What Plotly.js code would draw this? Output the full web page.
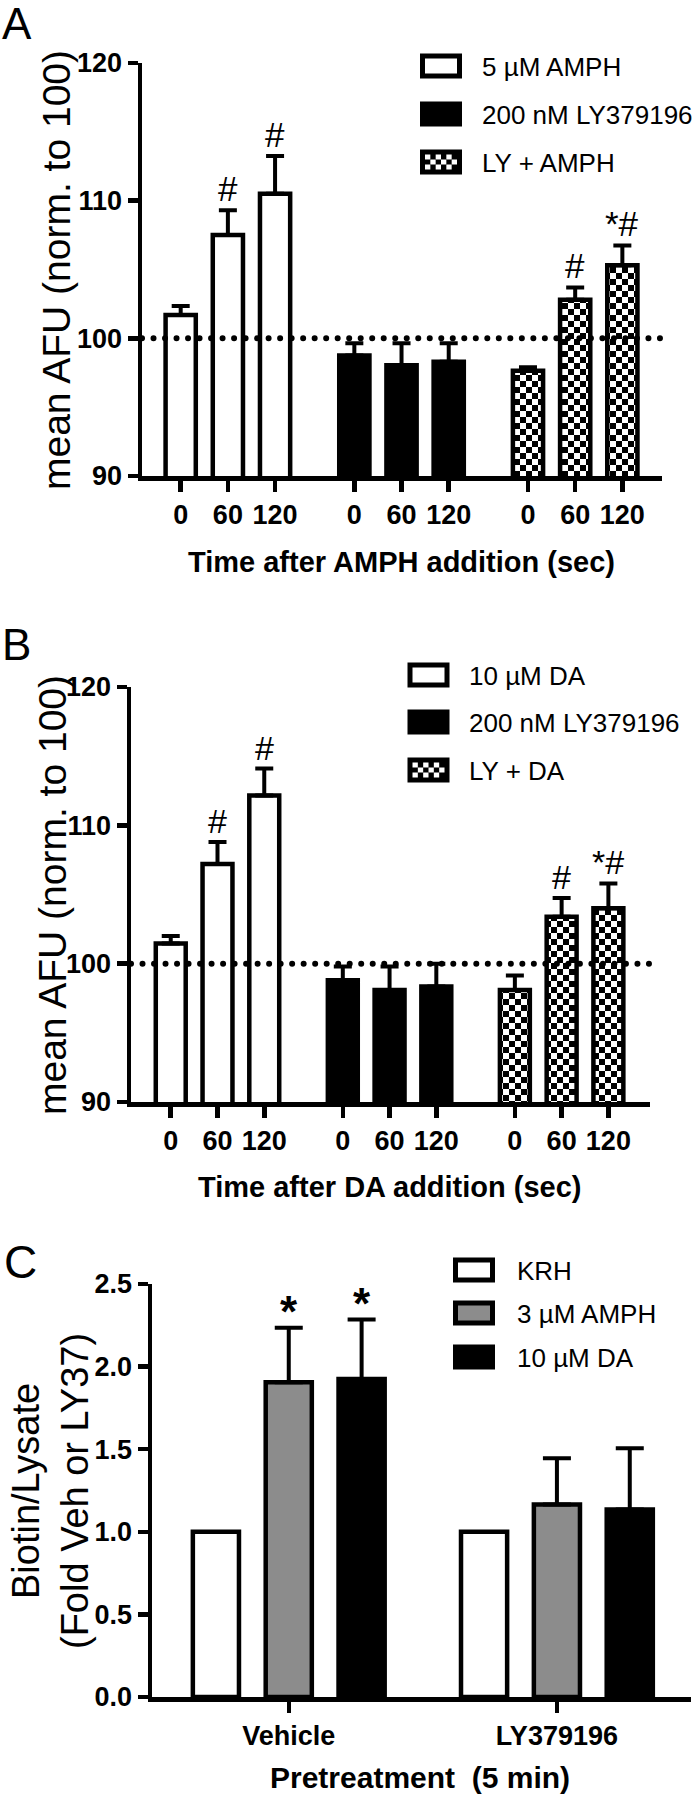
<!DOCTYPE html>
<html>
<head>
<meta charset="utf-8">
<script src="https://cdn.plot.ly/plotly-3.0.1.min.js"></script>
<style>
  html, body { margin: 0; padding: 0; background: #ffffff; }
  #chart { width: 693px; height: 1800px; }
</style>
</head>
<body>
<div id="chart"></div>
<script>
// ---------------- DATA ----------------
const timeLabels = ['0', '60', '120'];

// Panel A
const seriesA = ['5 µM AMPH', '200 nM LY379196', 'LY + AMPH'];
const ampA = [101.7, 107.5, 110.5];
const ampAErr = [0.65, 1.8, 2.75];
const ampASig = ['', '#', '#'];
const lyA = [98.75, 98.05, 98.3];
const lyAErr = [0.9, 1.6, 1.35];
const lyASig = ['', '', ''];
const lyAmpA = [97.65, 102.8, 105.3];
const lyAmpAErr = [0.25, 0.9, 1.45];
const lyAmpASig = ['', '#', '*#'];
const titleAX = 'Time after AMPH addition (sec)';

// Panel B
const seriesB = ['10 µM DA', '200 nM LY379196', 'LY + DA'];
const daB = [101.45, 107.2, 112.15];
const daBErr = [0.55, 1.6, 1.95];
const daBSig = ['', '#', '#'];
const lyB = [98.8, 98.1, 98.35];
const lyBErr = [1.0, 1.7, 1.65];
const lyBSig = ['', '', ''];
const lyDaB = [98.1, 103.4, 104.0];
const lyDaBErr = [1.05, 1.35, 1.8];
const lyDaBSig = ['', '#', '*#'];
const titleBX = 'Time after DA addition (sec)';

const titleABY = 'mean AFU (norm. to 100)';
const ticksAB = [90, 100, 110, 120];
const refLine = 100;

// Panel C
const pretreat = ['Vehicle', 'LY379196'];
const seriesC = ['KRH', '3 µM AMPH', '10 µM DA'];
const krhC = [1.0, 1.0];
const ampC = [1.905, 1.165];
const ampCErr = [0.33, 0.28];
const ampCSig = ['*', ''];
const daC = [1.925, 1.135];
const daCErr = [0.36, 0.37];
const daCSig = ['*', ''];
const titleCX = 'Pretreatment \u00a0(5 min)';
const titleCY = 'Biotin/Lysate<br>(Fold Veh or LY37)';
const ticksC = [0, 0.5, 1.0, 1.5, 2.0, 2.5];

// ---------------- LAYOUT HELPERS ----------------
const W = 693, H = 1800;
const PX = v => v / W;
const PY = v => 1 - v / H;
const FONT = 'Liberation Sans, Arial, Helvetica, sans-serif';
const GROUP_STEP = 3.68;
const BAR_W = 0.64;
const LW = 4.5;
const GRAY = '#8c8c8c';

const fills = {
  white: { color: 'white' },
  black: { color: 'black' },
  gray: { color: GRAY },
  checker: { color: 'black', pattern: { shape: '.', size: 12, solidity: 0.5, fgcolor: 'black', bgcolor: 'white', fillmode: 'replace' } }
};

function positions(g) { return timeLabels.map((_, i) => g * GROUP_STEP + i); }

const data = [];
const annotations = [];
const shapes = [];

function addBar(xs, ys, errs, fill, xa, ya, name, width) {
  const t = {
    type: 'bar', x: xs, y: ys, name: name, xaxis: xa, yaxis: ya, showlegend: false,
    marker: Object.assign({}, fills[fill], { line: { color: 'black', width: LW } })
  };
  if (width !== undefined) t.width = width;
  if (errs) {
    t.error_y = { type: 'data', symmetric: false, array: errs, arrayminus: errs.map(() => 0),
                  color: 'black', thickness: 4, width: xa === 'x3' ? 14 : 9 };
  }
  data.push(t);
}

function addSig(xs, ys, errs, sigs, xa, ya, size, bold, yshift) {
  sigs.forEach((s, i) => {
    if (!s) return;
    annotations.push({
      xref: xa, yref: ya, x: xs[i], y: ys[i] + (errs ? errs[i] : 0), text: s,
      showarrow: false, yanchor: 'bottom', xanchor: 'center', yshift: yshift,
      font: { family: FONT, size: size, color: 'black', weight: bold ? 'bold' : 'normal' }
    });
  });
}

function addLegend(names, kinds, cx, rows, textX) {
  names.forEach((n, i) => {
    const cy = rows[i];
    shapes.push({
      type: 'rect', xref: 'paper', yref: 'paper', layer: 'above',
      x0: PX(cx - 18.5), x1: PX(cx + 18.5), y0: PY(cy + 10), y1: PY(cy - 10),
      line: { color: 'black', width: 5 },
      fillcolor: kinds[i] === 'white' ? 'white' : (kinds[i] === 'gray' ? GRAY : 'black')
    });
    if (kinds[i] === 'checker') {
      const cw = 32 / 6, ch = 15 / 3;
      for (let r = 0; r < 3; r++) {
        for (let c = 0; c < 6; c++) {
          if ((r + c) % 2 === 0) {
            const x0 = cx - 16 + c * cw, y0 = cy - 7.5 + r * ch;
            shapes.push({ type: 'rect', xref: 'paper', yref: 'paper', layer: 'above',
              x0: PX(x0), x1: PX(x0 + cw), y0: PY(y0 + ch), y1: PY(y0),
              line: { width: 0 }, fillcolor: 'white' });
          }
        }
      }
    }
    annotations.push({
      xref: 'paper', yref: 'paper', x: PX(textX), y: PY(cy + 1), text: n,
      showarrow: false, xanchor: 'left', yanchor: 'middle',
      font: { family: FONT, size: 26, color: 'black' }
    });
  });
}

function addText(text, x, y, size, bold, angle) {
  annotations.push({
    xref: 'paper', yref: 'paper', x: PX(x), y: PY(y), text: text, showarrow: false,
    xanchor: 'center', yanchor: 'middle', textangle: angle || 0,
    font: { family: FONT, size: size, color: 'black', weight: bold ? 'bold' : 'normal' }
  });
}

// ---------------- PANEL A ----------------
const pA = [positions(0), positions(1), positions(2)];
addBar(pA[0], ampA, ampAErr, 'white', 'x', 'y', seriesA[0], BAR_W);
addBar(pA[1], lyA, lyAErr, 'black', 'x', 'y', seriesA[1], BAR_W);
addBar(pA[2], lyAmpA, lyAmpAErr, 'checker', 'x', 'y', seriesA[2], BAR_W);
addSig(pA[0], ampA, ampAErr, ampASig, 'x', 'y', 35, false, 0);
addSig(pA[1], lyA, lyAErr, lyASig, 'x', 'y', 35, false, 0);
addSig(pA[2], lyAmpA, lyAmpAErr, lyAmpASig, 'x', 'y', 35, false, 0);

// ---------------- PANEL B ----------------
const pB = [positions(0), positions(1), positions(2)];
addBar(pB[0], daB, daBErr, 'white', 'x2', 'y2', seriesB[0], BAR_W);
addBar(pB[1], lyB, lyBErr, 'black', 'x2', 'y2', seriesB[1], BAR_W);
addBar(pB[2], lyDaB, lyDaBErr, 'checker', 'x2', 'y2', seriesB[2], BAR_W);
addSig(pB[0], daB, daBErr, daBSig, 'x2', 'y2', 34, false, 0);
addSig(pB[1], lyB, lyBErr, lyBSig, 'x2', 'y2', 34, false, 0);
addSig(pB[2], lyDaB, lyDaBErr, lyDaBSig, 'x2', 'y2', 34, false, 0);

// ---------------- PANEL C ----------------
const BARGAP_C = 0.185, BARGROUPGAP_C = 0.367;
addBar(pretreat, krhC, null, 'white', 'x3', 'y3', seriesC[0]);
addBar(pretreat, ampC, ampCErr, 'gray', 'x3', 'y3', seriesC[1]);
addBar(pretreat, daC, daCErr, 'black', 'x3', 'y3', seriesC[2]);
const slotC = (1 - BARGAP_C) / 3;
const catIdx = pretreat.map((_, i) => i);
addSig(catIdx.map(i => i), ampC, ampCErr, ampCSig, 'x3', 'y3', 44, true, -10);
addSig(catIdx.map(i => i + slotC), daC, daCErr, daCSig, 'x3', 'y3', 44, true, -10);

// ---------------- REFERENCE LINES ----------------
[['x', 'y'], ['x2', 'y2']].forEach(([xa, ya]) => {
  shapes.push({ type: 'line', xref: xa + ' domain', yref: ya, x0: 0, x1: 1, y0: refLine, y1: refLine,
                layer: 'above', line: { color: 'black', width: 6, dash: '5px,6px' } });
});

// ---------------- LEGENDS ----------------
addLegend(seriesA, ['white', 'black', 'checker'], 441, [66, 114, 162], 480);
addLegend(seriesB, ['white', 'black', 'checker'], 428.5, [675, 722, 770], 467);
addLegend(seriesC, ['white', 'gray', 'black'], 474, [1270, 1313, 1357], 515);

// ---------------- TITLES / LETTERS ----------------
addText('A', 17, 23, 44, false);
addText(titleABY, 56, 270, 39, false, -90);
addText(titleAX, 401, 562, 29, true);
addText('B', 16, 644, 44, false);
addText(titleABY, 52, 895, 39, false, -90);
addText(titleBX, 390, 1187, 29, true);
addText('C', 20, 1262, 46, false);
addText(titleCY, 50, 1491, 38, false, -90);
addText(titleCX, 420, 1777, 30, true);

// ---------------- AXES ----------------
const tickFont = { family: FONT, size: 27, color: 'black', weight: 'bold' };
function xAxisNum(domain, range, yAnchor) {
  return {
    domain: domain, range: range, anchor: yAnchor, type: 'linear',
    tickmode: 'array', tickvals: [].concat(...[0, 1, 2].map(positions)),
    ticktext: [].concat(timeLabels, timeLabels, timeLabels),
    ticks: 'outside', ticklen: 11, tickwidth: LW, tickcolor: 'black',
    showline: true, linewidth: LW, linecolor: 'black', showgrid: false, zeroline: false,
    tickfont: tickFont, fixedrange: true
  };
}
function yAxis(domain, range, vals, xAnchor, fmt) {
  return {
    domain: domain, range: range, anchor: xAnchor,
    tickmode: 'array', tickvals: vals, tickformat: fmt,
    ticks: 'outside', ticklen: 10, tickwidth: LW, tickcolor: 'black',
    showline: true, linewidth: LW, linecolor: 'black', showgrid: false, zeroline: false,
    tickfont: tickFont, fixedrange: true
  };
}

const layout = {
  width: W, height: H,
  margin: { l: 0, r: 0, t: 0, b: 0 },
  paper_bgcolor: 'white', plot_bgcolor: 'white',
  barmode: 'group', bargap: BARGAP_C, bargroupgap: BARGROUPGAP_C,
  showlegend: false,
  font: { family: FONT, color: 'black' },
  xaxis: xAxisNum([PX(142), PX(662)], [-0.82, 10.2], 'y'),
  yaxis: yAxis([PY(476), PY(63)], [90, 120], ticksAB, 'x', 'd'),
  xaxis2: xAxisNum([PX(131), PX(650)], [-0.85, 10.25], 'y2'),
  yaxis2: yAxis([PY(1102), PY(687)], [90, 120], ticksAB, 'x2', 'd'),
  xaxis3: {
    domain: [PX(152), PX(691)], range: [-0.51, 1.5], anchor: 'y3', type: 'category',
    categoryarray: pretreat, ticks: 'outside', ticklen: 11, tickwidth: LW, tickcolor: 'black',
    showline: true, linewidth: LW, linecolor: 'black', showgrid: false, zeroline: false,
    tickfont: { family: FONT, size: 27, color: 'black', weight: 'bold' }, fixedrange: true
  },
  yaxis3: yAxis([PY(1697), PY(1284)], [0, 2.5], ticksC, 'x3', '.1f'),
  shapes: shapes,
  annotations: annotations
};

const gd = document.getElementById('chart');
Plotly.newPlot(gd, data, layout, { staticPlot: true, displayModeBar: false }).then(function () {
  // checkerboard fill for the "LY +" bars
  document.querySelectorAll('pattern').forEach(function (p) {
    p.setAttribute('width', '12');
    p.setAttribute('height', '12');
    p.removeAttribute('patternTransform');
    p.innerHTML = '<rect x="0" y="0" width="12" height="12" fill="#ffffff"></rect>' +
                  '<rect x="0" y="0" width="6" height="6" fill="#000000"></rect>' +
                  '<rect x="6" y="6" width="6" height="6" fill="#000000"></rect>';
  });
  // round dots for the dotted reference lines
  document.querySelectorAll('.shapelayer path').forEach(function (p) {
    const d = p.style.strokeDasharray;
    if (d && d !== 'none') {
      p.style.strokeLinecap = 'round';
      p.style.strokeDasharray = '0.01px, 11.5px';
    }
  });
});
</script>
</body>
</html>
